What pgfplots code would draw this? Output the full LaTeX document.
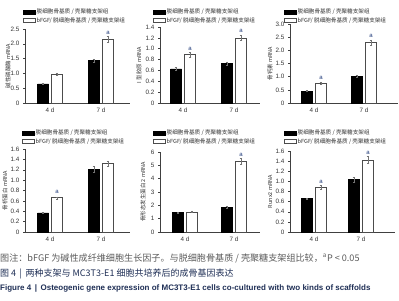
\documentclass[border=0pt]{standalone}
\usepackage{fontspec}
\usepackage{pgfplots}
\pgfplotsset{compat=1.18}
\setmainfont{Liberation Sans}
\newfontfamily\cjk{Noto Sans CJK SC}
\definecolor{navy}{HTML}{1F3A7A}
\definecolor{capgray}{HTML}{5A5A5A}
\definecolor{capblue}{HTML}{1E2E55}
\pgfplotsset{
  panel/.style={
    scale only axis, axis lines*=left, xmin=0, ymin=0, clip=false,
    axis line style={black!75, line width=0.6pt, -},
    tick align=outside, major tick length=2pt,
    ytick style={black!75, line width=0.5pt},
    xtick style={draw=none},
    tick label style={font=\fontsize{6.3}{7}\selectfont, text=black!80},
    /pgf/number format/assume math mode=true,
    xticklabels={4 d,7 d},
    xticklabel style={yshift=1pt},
    ylabel style={font=\cjk\fontsize{5.5}{6.5}\selectfont, text=black!80, anchor=center},
    legend style={draw=none, fill=none, font=\cjk\fontsize{5.6}{6}\selectfont, text=black!80,
      inner sep=0pt, row sep=0pt, nodes={inner sep=1pt}, at={(0,1)}, anchor=north west},
    legend cell align=left,
  },
  blk/.style={ybar, bar width=11pt, bar shift=0pt, fill=black, draw=black,
    legend image code/.code={\fill[black] (0pt,-2pt) rectangle (12pt,2pt);},
    error bars/.cd, y dir=both, y explicit,
    error bar style={black!55, line width=0.4pt},
    error mark options={rotate=90, mark size=1.3pt, black!55, line width=0.4pt}},
  wht/.style={ybar, bar width=11pt, bar shift=0pt, fill=white, draw=black!70, line width=0.6pt,
    legend image code/.code={\draw[black!70, fill=white, line width=0.5pt] (0pt,-2pt) rectangle (12pt,2pt);},
    error bars/.cd, y dir=both, y explicit,
    error bar style={black!55, line width=0.4pt},
    error mark options={rotate=90, mark size=1.3pt, black!55, line width=0.4pt}},
  alab/.style={forget plot, only marks, mark=none, nodes near coords={a},
    every node near coord/.append style={font=\fontsize{6}{6}\selectfont, text=navy, anchor=south, inner sep=1pt}},
}
\begin{document}
\begin{tikzpicture}
\path[use as bounding box] (0,0) rectangle (399pt,-300pt);
% Panel 1
\begin{axis}[panel, at={(25pt,-103pt)}, anchor=south west, width=105pt, height=74pt,
  xmax=105, ymax=2.5, ytick={0,0.5,1,1.5,2,2.5}, yticklabels={0,0.5,1.0,1.5,2.0,2.5},
  xtick={25,76}, ylabel={碱性磷酸酶 mRNA}, ylabel style={at={(axis description cs:-0.162,0.5)}},
  legend style={xshift=-2pt, yshift=21pt}]
\addplot[blk] coordinates {(18,0.65) +- (0,0.03) (69,1.43) +- (0,0.05)};
\addlegendentry{脱细胞骨基质 / 壳聚糖支架组}
\addplot[wht] coordinates {(32,0.97) +- (0,0.03) (83,2.15) +- (0,0.10)};
\addlegendentry{bFGF/ 脱细胞骨基质 / 壳聚糖支架组}
\addplot[alab] coordinates {(83,2.27)};
\end{axis}
% Panel 2
\begin{axis}[panel, at={(160pt,-103pt)}, anchor=south west, width=100pt, height=76pt,
  xmax=100, ymax=1.4, ytick={0,0.2,0.4,0.6,0.8,1.0,1.2,1.4}, yticklabels={0,0.2,0.4,0.6,0.8,1.0,1.2,1.4},
  xtick={23,74}, ylabel={I 型胶原 mRNA}, ylabel style={at={(axis description cs:-0.21,0.5)}},
  legend style={xshift=-7pt, yshift=19pt}]
\addplot[blk] coordinates {(16,0.63) +- (0,0.03) (67,0.73) +- (0,0.03)};
\addlegendentry{脱细胞骨基质 / 壳聚糖支架组}
\addplot[wht] coordinates {(30,0.89) +- (0,0.04) (81,1.20) +- (0,0.05)};
\addlegendentry{bFGF/ 脱细胞骨基质 / 壳聚糖支架组}
\addplot[alab] coordinates {(30,0.95) (81,1.27)};
\end{axis}
% Panel 3
\begin{axis}[panel, at={(290pt,-103pt)}, anchor=south west, width=108pt, height=79pt,
  xmax=108, ymax=3.0, ytick={0,0.5,1,1.5,2,2.5,3}, yticklabels={0,0.5,1.0,1.5,2.0,2.5,3.0},
  xtick={24,74}, ylabel={骨钙素 mRNA}, ylabel style={at={(axis description cs:-0.185,0.5)}},
  legend style={xshift=-6pt, yshift=16pt}]
\addplot[blk] coordinates {(17,0.45) +- (0,0.02) (67,1.02) +- (0,0.03)};
\addlegendentry{脱细胞骨基质 / 壳聚糖支架组}
\addplot[wht] coordinates {(31,0.76) +- (0,0.03) (81,2.30) +- (0,0.10)};
\addlegendentry{bFGF/ 脱细胞骨基质 / 壳聚糖支架组}
\addplot[alab] coordinates {(31,0.83) (81,2.44)};
\end{axis}
% Panel 4
\begin{axis}[panel, at={(25pt,-232pt)}, anchor=south west, width=105pt, height=83pt,
  xmax=105, ymax=1.6, ytick={0,0.2,0.4,0.6,0.8,1.0,1.2,1.4,1.6}, yticklabels={0,0.2,0.4,0.6,0.8,1.0,1.2,1.4,1.6},
  xtick={25,76}, ylabel={骨桥蛋白 mRNA}, ylabel style={at={(axis description cs:-0.19,0.5)}},
  legend style={xshift=-3pt, yshift=20pt}]
\addplot[blk] coordinates {(18,0.37) +- (0,0.01) (69,1.21) +- (0,0.06)};
\addlegendentry{脱细胞骨基质 / 壳聚糖支架组}
\addplot[wht] coordinates {(32,0.66) +- (0,0.02) (83,1.32) +- (0,0.05)};
\addlegendentry{bFGF/ 脱细胞骨基质 / 壳聚糖支架组}
\addplot[alab] coordinates {(32,0.72)};
\end{axis}
% Panel 5
\begin{axis}[panel, at={(160pt,-232pt)}, anchor=south west, width=100pt, height=80pt,
  xmax=100, ymax=6, ytick={0,1,2,3,4,5,6}, yticklabels={0,1,2,3,4,5,6},
  xtick={25,74}, ylabel={骨形态发生蛋白 2 mRNA}, ylabel style={at={(axis description cs:-0.17,0.5)}},
  legend style={xshift=-7pt, yshift=23pt}]
\addplot[blk] coordinates {(18,1.45) +- (0,0.06) (67,1.85) +- (0,0.06)};
\addlegendentry{脱细胞骨基质 / 壳聚糖支架组}
\addplot[wht] coordinates {(32,1.50) +- (0,0.05) (81,5.30) +- (0,0.20)};
\addlegendentry{bFGF/ 脱细胞骨基质 / 壳聚糖支架组}
\addplot[alab] coordinates {(81,5.55)};
\end{axis}
% Panel 6
\begin{axis}[panel, at={(290pt,-232pt)}, anchor=south west, width=105pt, height=81pt,
  xmax=105, ymax=1.6, ytick={0,0.2,0.4,0.6,0.8,1.0,1.2,1.4,1.6}, yticklabels={0,0.2,0.4,0.6,0.8,1.0,1.2,1.4,1.6},
  xtick={24,71}, ylabel={Runx2 mRNA}, ylabel style={at={(axis description cs:-0.19,0.5)}},
  legend style={xshift=-6pt, yshift=22pt}]
\addplot[blk] coordinates {(17,0.66) +- (0,0.01) (64,1.04) +- (0,0.05)};
\addlegendentry{脱细胞骨基质 / 壳聚糖支架组}
\addplot[wht] coordinates {(31,0.88) +- (0,0.04) (78,1.42) +- (0,0.07)};
\addlegendentry{bFGF/ 脱细胞骨基质 / 壳聚糖支架组}
\addplot[alab] coordinates {(31,0.94) (78,1.51)};
\end{axis}
% Caption
\node[anchor=base west, inner sep=0pt, text=capgray, font=\cjk\fontsize{9.1}{10}\selectfont] at (0pt,-261pt)
  {图注：bFGF 为碱性成纤维细胞生长因子。与脱细胞骨基质 / 壳聚糖支架组比较，\textsuperscript{a}\textit{P} < 0.05};
\node[anchor=base west, inner sep=0pt, text=capblue, font=\cjk\fontsize{9}{10}\selectfont] at (0pt,-276pt)
  {图 4 \,|\, 两种支架与 MC3T3-E1 细胞共培养后的成骨基因表达};
\node[anchor=base west, inner sep=0pt, text=capblue, font=\bfseries\fontsize{8}{9}\selectfont] at (0pt,-290pt)
  {Figure 4 \,|\, Osteogenic gene expression of MC3T3-E1 cells co-cultured with two kinds of scaffolds};
\end{tikzpicture}
\end{document}
